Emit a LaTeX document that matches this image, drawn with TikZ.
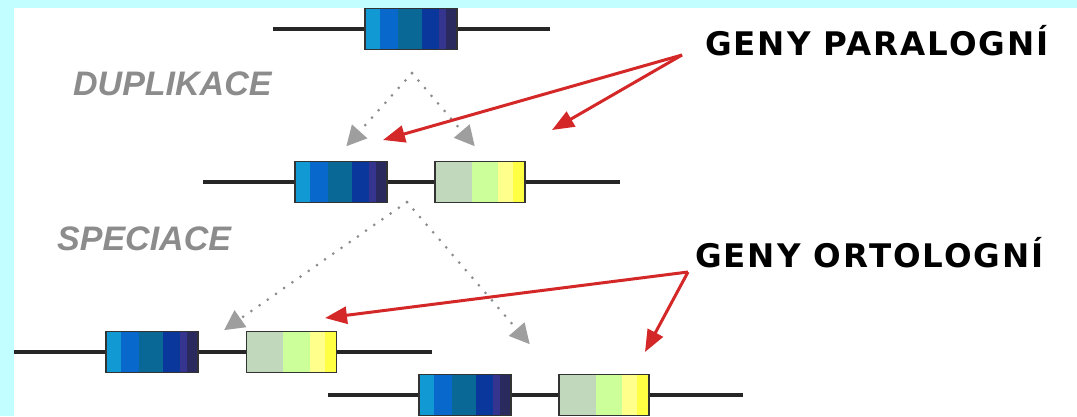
\documentclass[tikz,border=0pt]{standalone}
\usepackage{fontspec}
\setmainfont{DejaVu Sans}
\newfontfamily\kindfont{DejaVu Sans}[LetterSpace=6]
\newfontfamily\eventfont{Liberation Sans}
\usetikzlibrary{arrows.meta,calc}

\definecolor{framecyan}{HTML}{C2FEFF}
\definecolor{bA}{HTML}{1199D4}
\definecolor{bB}{HTML}{0868CC}
\definecolor{bC}{HTML}{0A6896}
\definecolor{bD}{HTML}{0A379C}
\definecolor{bE}{HTML}{35358F}
\definecolor{bF}{HTML}{2A2A5E}
\definecolor{yA}{HTML}{C2D8BC}
\definecolor{yB}{HTML}{CCFF99}
\definecolor{yC}{HTML}{FFFF8C}
\definecolor{yD}{HTML}{FFFF44}
\definecolor{pointred}{HTML}{D42828}
\definecolor{eventgray}{HTML}{8C8C8C}

% stripes of a gene box, as from/to/colour
\newcommand\bandfill[1]{%
  \foreach \a/\b/\c in {#1}{%
    \fill[\c] ($(path picture bounding box.south west)!\a!(path picture bounding box.south east)$)
      rectangle ($(path picture bounding box.north west)!\b!(path picture bounding box.north east)$);}}

\tikzset{
  chrom/.style={line width=3.3pt, draw=black!85},
  gene/.style={draw=black!80, line width=1.8pt, minimum height=41pt, inner sep=0pt},
  bluegene/.style={gene, minimum width=92pt,
    path picture={\bandfill{0/.17/bA,.16/.37/bB,.36/.63/bC,.62/.81/bD,.8/.89/bE,.88/1/bF}}},
  yellowgene/.style={gene, minimum width=90pt,
    path picture={\bandfill{0/.42/yA,.41/.71/yB,.7/.88/yC,.87/1/yD}}},
  event/.style={font=\eventfont\bfseries\itshape\fontsize{34}{34}\selectfont, text=eventgray,
    anchor=base west, inner sep=0pt},
  kind/.style={font=\kindfont\bfseries\fontsize{32.5}{33}\selectfont, anchor=base west, inner sep=0pt},
  descent/.style={draw=black!45, line width=3pt, line cap=round, dash pattern=on 0pt off 10pt,
    -{Triangle[length=20pt,width=20pt,sep=5pt,color=black!38]}},
  pointer/.style={draw=pointred, line width=3pt,
    -{Triangle[length=22pt,width=17pt]}},
}

\begin{document}
\begin{tikzpicture}[x=1pt,y=-1pt]
  \fill[framecyan] (0,0) rectangle (1077,416);
  \fill[white] (14,8) rectangle (1077,416);
  \useasboundingbox (0,0) rectangle (1077,416);

  % chromosomes
  \coordinate (c1w) at (273,29);  \coordinate (c1e) at (550,29);
  \coordinate (c2w) at (203,182); \coordinate (c2e) at (620,182);
  \coordinate (c3w) at (14,352);  \coordinate (c3e) at (432,352);
  \coordinate (c4w) at (328,395); \coordinate (c4e) at (743,395);
  \draw[chrom] (c1w) -- (c1e);
  \draw[chrom] (c2w) -- (c2e);
  \draw[chrom] (c3w) -- (c3e);
  \draw[chrom] (c4w) -- (c4e);

  % genes
  \node[bluegene] (g0) at (411,29) {};
  \node[bluegene] (g1) at (341,182) {};
  \node[yellowgene] (h1) at (480,182) {};
  \node[bluegene] (g2) at (152,352) {};
  \node[yellowgene] (h2) at (291.5,352) {};
  \node[bluegene] (g3) at (465,395) {};
  \node[yellowgene] (h3) at (604,395) {};

  % events
  \node[event] (dup) at (73,95) {DUPLIKACE};
  \node[event] (spec) at (57,250) {SPECIACE};

  \coordinate (dupfork) at (412,73);
  \coordinate (duptipl) at (343,150);
  \coordinate (duptipr) at (478,150);
  \draw[descent] (dupfork) -- (duptipl);
  \draw[descent] (dupfork) -- (duptipr);

  \coordinate (specfork) at (407,202);
  \coordinate (spectipl) at (220,333);
  \coordinate (spectipr) at (533,348);
  \draw[descent] (specfork) -- (spectipl);
  \draw[descent] (specfork) -- (spectipr);

  % gene kinds
  \node[kind] (para) at (705,55) {GENY PARALOGNÍ};
  \node[kind] (orto) at (695,267) {GENY ORTOLOGNÍ};

  \coordinate (paraorig) at (682,55);
  \coordinate (paratipl) at (383,140);
  \coordinate (paratipr) at (552,130);
  \draw[pointer] (paraorig) -- (paratipl);
  \draw[pointer] (paraorig) -- (paratipr);

  \coordinate (ortoorig) at (688,272);
  \coordinate (ortotipl) at (325,318);
  \coordinate (ortotipr) at (645,352);
  \draw[pointer] (ortoorig) -- (ortotipl);
  \draw[pointer] (ortoorig) -- (ortotipr);
\end{tikzpicture}
\end{document}
